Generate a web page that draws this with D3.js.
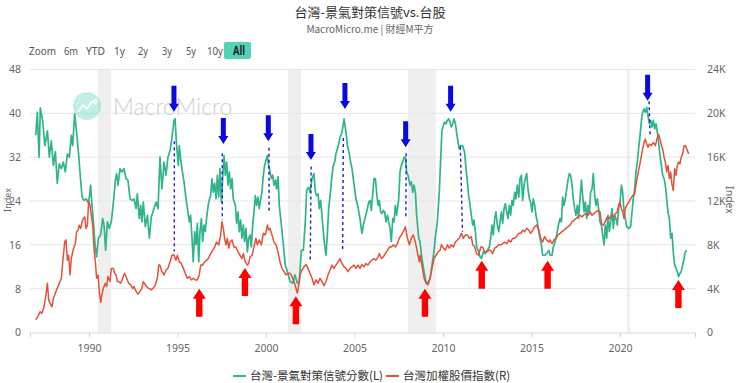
<!DOCTYPE html>
<html>
<head>
<meta charset="utf-8">
<script src="https://cdn.jsdelivr.net/npm/d3@7"></script>
<style>
  body { margin: 0; background: #fff; }
  svg { display: block; font-family: "Noto Sans CJK TC", "Noto Sans", sans-serif; }
</style>
</head>
<body>
<svg id="chart" width="740" height="383"></svg>
<script>
// [decimal year, score] - 景氣對策信號綜合分數
const signalScore = [
  [1986.99,36],[1987.08,40.2],[1987.18,32],[1987.25,41],[1987.38,38.7],[1987.51,34.1],[1987.65,36.8],[1987.76,32],[1987.87,35],[1987.99,30.5],
  [1988.10,33],[1988.21,27.2],[1988.32,30.8],[1988.44,29.9],[1988.55,31.1],[1988.66,29.3],[1988.78,32.6],[1988.89,32],[1989.00,36],[1989.08,34.1],
  [1989.19,39.9],[1989.30,36.6],[1989.42,32.3],[1989.49,29.3],[1989.61,24.7],[1989.72,24.1],[1989.83,24.4],[1989.94,23.8],[1990.02,24.7],[1990.09,26.9],
  [1990.17,23.2],[1990.25,20.2],[1990.34,16],[1990.43,13.8],[1990.53,17.2],[1990.66,17.8],[1990.77,20.8],[1990.85,19.6],[1990.94,15],[1991.04,20.2],
  [1991.15,19],[1991.26,20.2],[1991.38,23.8],[1991.49,27.8],[1991.56,29],[1991.64,26.9],[1991.75,29.9],[1991.86,29.3],[1991.98,29.9],[1992.09,28.1],
  [1992.20,27.8],[1992.32,24.4],[1992.43,24.1],[1992.54,24.4],[1992.66,22.6],[1992.73,25.3],[1992.84,20.8],[1992.92,23.2],[1992.99,20.2],[1993.07,23.8],
  [1993.18,19.3],[1993.30,21.4],[1993.41,17.2],[1993.52,21.1],[1993.67,22.6],[1993.79,23.8],[1993.90,22.6],
  [1994.01,32],[1994.12,26.2],[1994.24,31.1],[1994.35,28.7],[1994.46,32],[1994.58,33.2],[1994.69,35.6],[1994.80,38.7],[1994.86,39],[1994.95,34.1],
  [1995.05,30.5],[1995.10,34.1],[1995.18,31.7],[1995.25,29.9],[1995.37,27.5],[1995.48,24.4],[1995.59,22],[1995.67,20.2],[1995.74,21.4],[1995.82,17.2],
  [1995.89,12.9],[1995.97,18.4],[1996.05,16],[1996.12,19.9],[1996.20,12.9],[1996.27,18.4],[1996.35,20.8],[1996.42,16.6],[1996.50,19.6],[1996.57,18.4],
  [1996.65,21.1],[1996.76,23.8],[1996.87,25],[1996.95,28.1],[1997.02,25.6],[1997.10,27.2],[1997.18,24.4],[1997.25,28.7],[1997.33,24.7],[1997.40,29.9],
  [1997.48,23.8],[1997.55,28.1],[1997.63,32.3],[1997.70,28.7],[1997.78,31.1],[1997.85,26.9],[1997.93,29.3],[1998.00,26.2],[1998.08,28.1],[1998.15,24.4],
  [1998.27,23.2],[1998.34,19.9],[1998.42,22],[1998.49,18.4],[1998.57,20.5],[1998.64,17.2],[1998.72,19.6],[1998.79,16.6],[1998.87,19],[1998.95,14.7],
  [1999.02,17.2],[1999.10,17.8],[1999.17,15.6],[1999.25,19.6],[1999.32,22],[1999.40,25],[1999.47,23.2],[1999.55,24.7],[1999.62,22.6],[1999.70,24.4],
  [1999.77,25.6],[1999.85,28.7],[1999.92,30.5],[2000.00,31.4],[2000.08,32.3],[2000.15,30.5],[2000.23,29.3],[2000.30,28.1],[2000.38,28.7],[2000.45,26.9],
  [2000.53,27.8],[2000.60,26.2],[2000.68,28.4],[2000.75,23.2],[2000.87,19.6],[2000.98,16],[2001.09,12.3],[2001.21,11.1],
  [2001.36,9.3],[2001.51,9],[2001.64,10.5],[2001.77,9],[2001.88,9.3],[2002.00,15],[2002.11,15],[2002.22,20.2],[2002.30,26],[2002.41,26.5],
  [2002.49,25.6],[2002.60,28.1],[2002.71,29],[2002.79,25.6],[2002.86,25],[2002.94,25.3],[2003.01,22.6],[2003.09,24.1],[2003.16,21.4],[2003.24,18.4],
  [2003.31,16],[2003.39,14.1],[2003.47,18.1],[2003.54,22.6],[2003.62,25],[2003.73,28.7],[2003.80,30.5],[2003.88,31.1],[2003.95,32.6],[2004.03,33.5],
  [2004.11,34.4],[2004.18,35.6],[2004.29,36.5],[2004.41,39],[2004.52,36.5],[2004.60,34.1],[2004.71,32.6],[2004.78,31.1],[2004.86,29.9],[2004.93,28.1],
  [2005.01,26.2],[2005.08,24.4],[2005.20,22.9],[2005.31,20.8],[2005.42,18.1],[2005.50,19.6],[2005.61,21.1],[2005.73,22.6],[2005.80,23.8],[2005.88,24.1],
  [2005.95,22.3],[2006.03,25.3],[2006.10,28.1],[2006.18,28.1],[2006.25,25.6],[2006.33,23.2],[2006.40,24.1],[2006.48,22],[2006.55,21.7],[2006.63,22.3],
  [2006.70,22],[2006.78,20.2],[2006.86,21.4],[2006.93,20.2],[2007.01,19],[2007.08,16.6],[2007.16,20.8],[2007.23,20.2],[2007.31,23.2],[2007.38,21.4],
  [2007.50,24.4],[2007.57,29.3],[2007.65,30.5],[2007.72,31.1],[2007.80,32],[2007.87,32],[2007.95,29.3],[2008.02,28.7],[2008.14,26.9],[2008.21,27.5],
  [2008.29,25.6],[2008.36,26.9],[2008.44,25.6],[2008.51,21.4],[2008.63,17.2],
  [2008.70,16.5],[2008.81,13.5],[2008.93,11.1],[2009.04,9.3],[2009.15,9],[2009.27,9.9],[2009.38,12.3],[2009.49,14.7],[2009.57,17.5],[2009.68,20.2],
  [2009.79,25.6],[2009.87,31.7],[2009.94,36.9],[2010.02,37.8],[2010.09,38.4],[2010.17,38.1],[2010.25,38.7],[2010.32,39],[2010.40,38.4],[2010.47,37.5],
  [2010.55,38.1],[2010.62,39],[2010.70,38.1],[2010.77,36.5],[2010.85,34.7],[2010.92,33.5],[2011.00,34.1],[2011.11,34.1],[2011.22,32.9],[2011.30,29.9],
  [2011.38,27.5],[2011.45,25],[2011.53,23.2],[2011.60,21.4],[2011.68,19.6],[2011.75,20.5],[2011.83,18.4],[2011.90,15.6],[2012.02,14.7],[2012.09,13.8],
  [2012.17,13.5],[2012.28,14.7],[2012.39,14.4],[2012.51,15],[2012.62,15.6],[2012.69,17.2],[2012.77,19.6],[2012.84,17.8],[2012.92,20.8],[2012.99,22],
  [2013.07,19.6],[2013.15,18.4],[2013.22,20.2],[2013.30,22],[2013.37,19.9],[2013.45,22.6],[2013.52,23.5],[2013.60,22],[2013.67,20.8],[2013.75,23.2],
  [2013.82,21.4],[2013.90,24.1],[2013.97,23.2],[2014.05,25.6],[2014.12,24.4],[2014.20,26.9],[2014.28,24.7],[2014.35,28.1],[2014.43,28.7],[2014.50,24.1],
  [2014.58,26.9],[2014.65,28.1],[2014.73,29],[2014.80,26.2],[2014.88,24.4],[2014.95,23.8],[2015.03,22],[2015.10,24.4],[2015.18,23.2],[2015.25,21.4],
  [2015.33,20.2],[2015.41,18.4],[2015.48,17.2],[2015.56,16],[2015.63,14.1],[2015.74,14.1],[2015.86,14.4],[2015.97,15],[2016.05,14.1],[2016.16,14.1],
  [2016.23,15.6],[2016.33,16.5],[2016.42,17.8],[2016.52,19.6],[2016.61,20.8],[2016.69,20.2],[2016.76,24.7],[2016.84,23.2],[2016.91,24.4],[2016.99,26.2],
  [2017.06,27.8],[2017.14,29],[2017.21,28.7],[2017.29,26.9],[2017.36,24.4],[2017.44,22.6],[2017.51,21.4],[2017.59,23.2],[2017.66,20.8],[2017.74,24.4],
  [2017.82,27.8],[2017.89,25],[2017.97,22],[2018.04,23.8],[2018.12,20.8],[2018.19,23.2],[2018.27,21.7],[2018.34,25.6],[2018.42,26.2],[2018.49,29],
  [2018.57,25],[2018.64,23.2],[2018.72,24.4],[2018.79,22.6],[2018.87,20.2],[2018.95,19.6],[2019.02,17.8],[2019.10,16],[2019.17,19.6],[2019.25,17.2],
  [2019.32,21.4],[2019.40,18.4],[2019.47,20.2],[2019.55,22.6],[2019.62,19],[2019.70,21.4],[2019.77,20.8],[2019.85,19.6],[2019.92,22.6],[2020.00,23.8],
  [2020.08,26.9],[2020.15,25.6],[2020.23,22],[2020.30,20.8],[2020.38,19.3],[2020.49,19],[2020.60,19.3],[2020.68,22],[2020.75,24.4],[2020.83,26.2],
  [2020.90,29.3],[2020.98,31.1],[2021.05,33.5],[2021.13,35.9],[2021.21,38.7],[2021.28,40.2],[2021.36,40.8],[2021.43,40.2],[2021.51,41.1],[2021.58,39.6],
  [2021.66,38.1],[2021.73,38.7],[2021.81,37.5],[2021.88,38.7],[2021.96,37.2],[2022.03,38.1],[2022.11,36.5],[2022.18,34.7],[2022.26,32.3],[2022.34,30.5],
  [2022.41,28.7],[2022.49,28.1],[2022.56,26.9],[2022.64,24.4],[2022.71,22],[2022.79,20.8],[2022.86,17.2],[2022.94,18.1],[2023.01,14.7],[2023.09,12.3],
  [2023.16,11.7],[2023.24,11.1],[2023.31,10.2],[2023.39,10.8],[2023.46,11.1],[2023.54,12.3],[2023.62,13.5],[2023.69,14.7],[2023.77,15]
];

// [decimal year, index] - 台灣加權股價指數
const taiexIndex = [
  [1986.99,1150],[1987.14,1550],[1987.23,1900],[1987.34,1750],[1987.46,2350],[1987.57,3450],[1987.65,4500],[1987.72,3000],[1987.80,2650],[1987.91,2350],
  [1987.99,3100],[1988.10,3600],[1988.21,4050],[1988.32,4500],[1988.44,4950],[1988.51,6300],[1988.63,8300],[1988.70,8450],[1988.78,6600],[1988.85,7050],
  [1988.93,5250],[1989.00,6750],[1989.08,7350],[1989.15,7800],[1989.23,8100],[1989.30,9200],[1989.38,9350],[1989.45,9800],[1989.53,9500],[1989.61,10100],
  [1989.68,10400],[1989.76,10550],[1989.83,9500],[1989.91,9800],[1989.98,12050],[1990.06,11600],[1990.13,10700],[1990.21,9800],[1990.28,7700],[1990.36,6450],
  [1990.43,4950],[1990.51,5250],[1990.58,3750],[1990.66,2750],[1990.73,3450],[1990.81,4050],[1990.92,4500],[1991.00,4200],[1991.07,5100],[1991.19,4650],
  [1991.26,5850],[1991.38,5850],[1991.45,5400],[1991.53,5250],[1991.60,4650],[1991.68,4650],[1991.79,4500],[1991.90,4950],[1992.01,5400],[1992.13,4950],
  [1992.24,4500],[1992.35,4350],[1992.47,4000],[1992.54,4200],[1992.66,3750],[1992.77,3500],[1992.88,3750],[1992.99,4050],[1993.07,4650],[1993.18,4350],
  [1993.30,4100],[1993.41,4000],[1993.52,3900],[1993.63,4050],[1993.75,4350],[1993.86,4950],[1993.94,6150],
  [1994.01,6150],[1994.12,5550],[1994.24,5250],[1994.35,5700],[1994.46,5850],[1994.58,6450],[1994.69,7050],[1994.80,7100],[1994.91,6600],[1994.99,7050],
  [1995.10,6450],[1995.22,6300],[1995.33,5850],[1995.44,5400],[1995.55,4950],[1995.67,5100],[1995.78,4800],[1995.89,4950],[1996.01,4800],[1996.12,4800],
  [1996.23,5250],[1996.31,6150],[1996.42,6150],[1996.53,6450],[1996.65,6600],[1996.76,6800],[1996.87,7200],[1996.99,7500],[1997.10,7800],[1997.21,8250],
  [1997.33,8000],[1997.44,8900],[1997.51,10100],[1997.59,9500],[1997.66,8600],[1997.74,8000],[1997.82,8600],[1997.89,7700],[1997.97,8250],[1998.08,8450],
  [1998.19,7800],[1998.30,7800],[1998.42,7350],[1998.53,7050],[1998.64,6750],[1998.72,7200],[1998.83,6450],[1998.95,6150],[1999.02,6300],[1999.10,6900],
  [1999.21,7050],[1999.32,7800],[1999.43,8600],[1999.51,8000],[1999.62,8450],[1999.74,8000],[1999.85,9050],[1999.96,8900],[2000.08,9800],[2000.15,9350],
  [2000.23,9500],[2000.34,8900],[2000.45,8250],[2000.57,8000],[2000.68,7350],[2000.79,6450],[2000.90,5850],[2001.02,5550],[2001.13,5250],[2001.24,5400],
  [2001.36,5400],[2001.47,5100],[2001.58,4650],[2001.69,4050],[2001.77,3600],[2001.85,4350],[2001.92,5250],[2002.03,5700],[2002.15,6000],[2002.26,6200],
  [2002.37,5850],[2002.49,5400],[2002.60,4950],[2002.71,4350],[2002.83,4800],[2002.94,4500],[2003.05,4950],[2003.16,4650],[2003.28,4275],[2003.39,4650],
  [2003.50,5250],[2003.62,5700],[2003.73,6150],[2003.84,5850],[2003.95,6150],[2004.07,6450],[2004.18,6750],[2004.29,6300],[2004.41,6000],[2004.52,5850],
  [2004.63,5550],[2004.75,5850],[2004.86,6000],[2004.97,6150],[2005.08,5850],[2005.20,6150],[2005.31,5850],[2005.42,6200],[2005.54,6000],[2005.65,6300],
  [2005.76,6150],[2005.88,6450],[2005.99,6600],[2006.10,6750],[2006.21,6600],[2006.33,6900],[2006.40,7200],[2006.52,6750],[2006.63,6900],[2006.74,7200],
  [2006.86,7500],[2006.97,7800],[2007.08,7800],[2007.19,8000],[2007.31,7800],[2007.42,8100],[2007.53,8600],[2007.65,8900],[2007.76,9200],[2007.87,9650],
  [2007.99,8600],[2008.10,8000],[2008.21,8600],[2008.32,8900],[2008.44,8250],[2008.55,7350],[2008.66,6450],
  [2008.70,7050],[2008.81,6150],[2008.93,4950],[2009.04,4500],[2009.15,4350],[2009.27,4950],[2009.38,5850],[2009.49,6750],[2009.61,7050],[2009.72,7350],
  [2009.83,7500],[2009.91,8000],[2010.02,7700],[2010.13,7500],[2010.25,8000],[2010.36,7700],[2010.47,8000],[2010.59,7800],[2010.70,8250],[2010.81,8450],
  [2010.92,8600],[2011.04,9050],[2011.15,8600],[2011.26,8900],[2011.38,8900],[2011.49,8600],[2011.60,8750],[2011.68,8000],[2011.79,7800],[2011.90,7200],
  [2012.02,7050],[2012.13,7800],[2012.24,7800],[2012.36,7350],[2012.47,7350],[2012.58,7500],[2012.69,7500],[2012.81,7200],[2012.92,7700],[2013.03,7800],
  [2013.15,8000],[2013.26,8000],[2013.37,8100],[2013.48,8250],[2013.60,8100],[2013.71,8450],[2013.82,8250],[2013.94,8600],[2014.05,8600],[2014.16,8750],
  [2014.28,9050],[2014.39,9050],[2014.50,9350],[2014.61,9200],[2014.73,9500],[2014.84,9350],[2014.95,9050],[2015.07,9350],[2015.18,9650],[2015.29,9800],
  [2015.41,9350],[2015.52,8600],[2015.63,8250],[2015.74,8750],[2015.86,8450],[2015.97,8250],
  [2016.05,8450],[2016.16,8100],[2016.27,8450],[2016.38,8600],[2016.50,8900],[2016.61,9050],[2016.72,9200],[2016.84,9350],[2016.95,9500],[2017.06,9650],
  [2017.17,9800],[2017.29,10100],[2017.40,10250],[2017.51,10400],[2017.63,10550],[2017.74,10700],[2017.85,10550],[2017.97,10750],[2018.08,10850],[2018.19,10700],
  [2018.30,11000],[2018.42,10700],[2018.53,10850],[2018.64,11000],[2018.76,11150],[2018.87,11000],[2018.95,9950],[2019.06,9800],[2019.17,10100],[2019.28,10550],
  [2019.40,10400],[2019.51,10700],[2019.62,10550],[2019.74,10850],[2019.85,11000],[2019.92,11600],[2020.00,11900],[2020.08,11300],[2020.15,11000],[2020.23,10400],
  [2020.30,11300],[2020.38,11600],[2020.49,11900],[2020.60,12200],[2020.72,12500],[2020.83,12650],[2020.90,13450],[2020.98,14200],[2021.05,14800],[2021.13,15400],
  [2021.21,16150],[2021.28,16750],[2021.36,17350],[2021.43,17650],[2021.51,17200],[2021.58,16900],[2021.66,17200],[2021.77,17050],[2021.88,17350],[2022.00,17050],
  [2022.11,17800],[2022.18,18100],[2022.26,17650],[2022.34,17050],[2022.41,16750],[2022.49,16000],[2022.56,15550],[2022.64,14650],[2022.71,15250],[2022.79,14050],
  [2022.86,14650],[2022.94,13450],[2023.01,12950],[2023.09,14950],[2023.16,14350],[2023.24,15250],[2023.31,15550],[2023.39,15400],[2023.46,16000],[2023.54,16300],
  [2023.62,17050],[2023.69,17050],[2023.77,16750],[2023.88,16300]
];

const yearTicks = [1990, 1995, 2000, 2005, 2010, 2015, 2020];
const scoreTicks = [0, 8, 16, 24, 32, 40, 48];
const indexTicks = [0, 4000, 8000, 12000, 16000, 20000, 24000];
const recessions = [[1990.51, 1991.24], [2001.24, 2001.98], [2008.02, 2009.6], [2020.4, 2020.56]];
// blue arrows: [year, score at arrow tip]
const peakCalls = [[1994.80, 40.3], [1997.59, 34.4], [2000.13, 34.9], [2002.54, 31.5], [2004.46, 40.8], [2007.89, 33.8], [2010.43, 40.3], [2021.56, 42.3]];
// dashed guides: [year top, score top, year bottom, score bottom]
const peakGuides = [
  [1994.82, 34.9, 1994.82, 14.8], [1997.53, 32.7, 1997.53, 20.6], [2000.17, 33.7, 2000.17, 21.8], [2002.55, 30.3, 2002.50, 13.0],
  [2004.37, 35.5, 2004.33, 15.1], [2007.92, 32.7, 2007.90, 20.9], [2010.98, 33.9, 2011.10, 18.4], [2021.64, 42.2, 2021.70, 36.1]
];
// red arrows: [year, score at arrow tip]
const troughCalls = [[1996.23, 8.0], [1998.81, 11.75], [2001.69, 6.6], [2008.98, 8.0], [2012.19, 13.1], [2015.91, 13.1], [2023.30, 9.6]];
const rangeButtons = ['Zoom', '6m', 'YTD', '1y', '2y', '3y', '5y', '10y', 'All'];
const seriesNames = ['台灣-景氣對策信號分數(L)', '台灣加權股價指數(R)'];

const green = '#2fb48c';
const red = '#e2513a';

const svg = d3.select('#chart');
const plotLeft = 30, plotRight = 695, plotTop = 69.5, plotBottom = 332.5;

const x = d3.scaleLinear().domain([1986.667, 2024.237]).range([plotLeft, plotRight]);
const yL = d3.scaleLinear().domain([0, 48]).range([plotBottom, plotTop]);
const yR = d3.scaleLinear().domain([0, 24000]).range([plotBottom, plotTop]);

// title
svg.append('text').attr('x', 370).attr('y', 17).attr('text-anchor', 'middle')
  .style('font-size', '13px').style('fill', '#333').text('台灣-景氣對策信號vs.台股');
svg.append('text').attr('x', 370).attr('y', 33).attr('text-anchor', 'middle')
  .style('font-size', '10px').style('fill', '#666').text('MacroMicro.me | 財經M平方');

// range selector (narrow face in the original, so squeeze each label to its width)
const selector = svg.append('g').attr('class', 'selector')
  .style('font-size', '11.5px').style('font-family', '"Noto Sans", sans-serif');
const btnX = [29, 64, 86, 114, 138, 162, 186, 207, 233];
const btnW = [27, 14, 19, 11, 10, 10, 10, 16, 12];
selector.append('rect').attr('x', 224).attr('y', 42).attr('width', 27).attr('height', 17)
  .attr('rx', 2).style('fill', '#55d3b6');
rangeButtons.forEach((b, i) => {
  selector.append('text').attr('x', btnX[i]).attr('y', 54.5)
    .attr('textLength', btnW[i]).attr('lengthAdjust', 'spacingAndGlyphs')
    .style('fill', b === 'All' ? '#222' : '#555')
    .style('font-weight', b === 'All' ? 'bold' : 'normal').text(b);
});

// recession bands
svg.append('g').selectAll('rect').data(recessions).enter().append('rect')
  .attr('x', d => x(d[0])).attr('width', d => x(d[1]) - x(d[0]))
  .attr('y', plotTop).attr('height', plotBottom - plotTop).style('fill', '#efefef');

// grid
svg.append('g').selectAll('line').data(scoreTicks.slice(1)).enter().append('line')
  .attr('x1', plotLeft).attr('x2', plotRight).attr('y1', d => yL(d)).attr('y2', d => yL(d))
  .style('stroke', '#e6e6e6');

// watermark
const wm = svg.append('g').attr('class', 'watermark');
wm.append('circle').attr('cx', 87).attr('cy', 106).attr('r', 14).style('fill', '#4fd1b5').style('opacity', 0.35);
wm.append('path').attr('d', 'M78,112 L83,105 L87,109 L92,101 L96,104')
  .style('fill', 'none').style('stroke', '#fff').style('stroke-width', 1.6);
wm.append('circle').attr('cx', 96).attr('cy', 101).attr('r', 1.6).style('fill', 'none').style('stroke', '#fff');
wm.append('text').attr('x', 113).attr('y', 115).style('font-family', 'Lato, "Open Sans", sans-serif')
  .style('font-weight', 300).style('font-size', '23px').style('fill', '#d0d0d0').text('MacroMicro');

// axes
const xAxis = d3.axisBottom(x).tickValues(yearTicks).tickFormat(d3.format('d')).tickSize(5).tickPadding(7);
const gx = svg.append('g').attr('transform', `translate(0,${plotBottom})`).call(xAxis);
gx.select('.domain').style('stroke', '#ccd6eb');
gx.selectAll('.tick line').style('stroke', '#ccd6eb');
gx.selectAll('.tick text').style('fill', '#666').style('font-size', '10.5px').style('font-family', '"Noto Sans", sans-serif');

const gl = svg.append('g').attr('transform', `translate(${plotLeft},0)`)
  .call(d3.axisLeft(yL).tickValues(scoreTicks).tickSize(0).tickPadding(9));
gl.select('.domain').remove();
gl.selectAll('.tick text').style('fill', '#666').style('font-size', '10.5px').style('font-family', '"Noto Sans", sans-serif');

const gr = svg.append('g').attr('transform', `translate(${plotRight},0)`)
  .call(d3.axisRight(yR).tickValues(indexTicks).tickSize(0).tickPadding(12)
    .tickFormat(d => (d === 0 ? '0' : d / 1000 + 'K')));
gr.select('.domain').remove();
gr.selectAll('.tick text').style('fill', '#666').style('font-size', '10.5px').style('font-family', '"Noto Sans", sans-serif');

svg.append('text').attr('transform', 'translate(726,200) rotate(90)').attr('text-anchor', 'middle')
  .style('font-size', '10.5px').style('fill', '#666').style('font-family', '"Noto Sans", sans-serif').text('Index');
svg.append('text').attr('transform', 'translate(10.5,200) rotate(-90)').attr('text-anchor', 'middle')
  .style('font-size', '9px').style('fill', '#666').style('font-family', '"Noto Sans", sans-serif').text('Index');

// series
svg.append('clipPath').attr('id', 'plot').append('rect')
  .attr('x', plotLeft).attr('y', plotTop - 2).attr('width', plotRight - plotLeft).attr('height', plotBottom - plotTop + 4);
const series = svg.append('g').attr('clip-path', 'url(#plot)');
series.append('path').datum(signalScore)
  .attr('d', d3.line().x(d => x(d[0])).y(d => yL(d[1])))
  .style('fill', 'none').style('stroke', green).style('stroke-width', 1.7).style('stroke-linejoin', 'round');
series.append('path').datum(taiexIndex)
  .attr('d', d3.line().x(d => x(d[0])).y(d => yR(d[1])))
  .style('fill', 'none').style('stroke', red).style('stroke-width', 1.5).style('stroke-linejoin', 'round');

// annotations
const notes = svg.append('g').attr('class', 'notes');
notes.selectAll('line.guide').data(peakGuides).enter().append('line').attr('class', 'guide')
  .attr('x1', d => x(d[0])).attr('y1', d => yL(d[1])).attr('x2', d => x(d[2])).attr('y2', d => yL(d[3]))
  .style('stroke', '#1b1bd6').style('stroke-width', 1.4).style('stroke-dasharray', '3,3');

const downArrow = 'M0,0 L-5,-8 L-2.5,-8 L-2.5,-26 L2.5,-26 L2.5,-8 L5,-8 Z';
const upArrow = 'M0,0 L-6.5,10 L-3.2,10 L-3.2,28 L3.2,28 L3.2,10 L6.5,10 Z';
notes.selectAll('path.peak').data(peakCalls).enter().append('path').attr('class', 'peak')
  .attr('d', downArrow).attr('transform', d => `translate(${x(d[0])},${yL(d[1])})`)
  .style('fill', '#0a0ae0');
notes.selectAll('path.trough').data(troughCalls).enter().append('path').attr('class', 'trough')
  .attr('d', upArrow).attr('transform', d => `translate(${x(d[0])},${yL(d[1])})`)
  .style('fill', '#ff0000');

// legend
const legend = svg.append('g').style('font-size', '11.5px');
const legendX = [233, 386];
seriesNames.forEach((name, i) => {
  legend.append('line').attr('x1', legendX[i]).attr('x2', legendX[i] + 13).attr('y1', 376).attr('y2', 376)
    .style('stroke', i === 0 ? green : red).style('stroke-width', 2);
  legend.append('text').attr('x', legendX[i] + 17).attr('y', 380).style('fill', '#333').text(name);
});
</script>
</body>
</html>
